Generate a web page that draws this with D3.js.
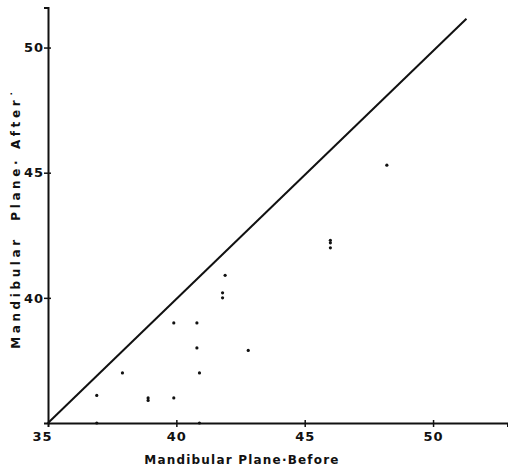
<!DOCTYPE html>
<html>
<head>
<meta charset="utf-8">
<script src="https://cdn.jsdelivr.net/npm/d3@7"></script>
<style>
  body { margin: 0; background: #fff; }
  svg { display: block; }
  .lbl { font-family: "DejaVu Sans", sans-serif; font-weight: bold; fill: #111; }
</style>
</head>
<body>
<div id="chart"></div>
<script>
// values
let beforeVals = [36.9, 36.9, 37.9, 38.9, 38.9, 39.9, 39.9, 40.8, 40.8, 40.9, 40.9, 41.8, 41.8, 41.9, 42.8, 46.0, 46.0, 46.0, 48.2];
let afterVals  = [35.0, 36.1, 37.0, 36.0, 35.9, 36.0, 39.0, 39.0, 38.0, 37.0, 35.0, 40.2, 40.0, 40.9, 37.9, 42.3, 42.2, 42.0, 45.3];
let xTicks = [35, 40, 45, 50];
let yTicks = [40, 45, 50];
// line of no change
let lineBefore = [35, 51.3];
let lineAfter = [35, 51.15];

let width = 508;
let height = 467;

let svg = d3.select("#chart").append("svg")
  .attr("width", width)
  .attr("height", height);

let xScale = d3.scaleLinear().domain([35, 52.9]).range([48, 507.5]);
let yScale = d3.scaleLinear().domain([35, 51.6]).range([423, 7.5]);

// x axis
let xAxis = svg.append("g")
  .attr("transform", "translate(0," + yScale(35) + ")")
  .call(d3.axisBottom(xScale).tickValues(xTicks).tickSize(4).tickPadding(5));
xAxis.select(".domain").attr("stroke", "#111").attr("stroke-width", 2);
xAxis.selectAll(".tick line").attr("y1", -3).attr("stroke", "#111").attr("stroke-width", 1.5);
xAxis.selectAll(".tick text")
  .attr("class", "lbl")
  .style("font-size", "13px")
  .style("letter-spacing", "1px")
  .attr("dx", function(d) { return d == 35 ? -6 : 0; });
xAxis.selectAll(".tick").filter(function(d) { return d == 35; }).select("line").remove();

// y axis
let yAxis = svg.append("g")
  .attr("transform", "translate(" + xScale(35) + ",0)")
  .call(d3.axisLeft(yScale).tickValues(yTicks).tickSize(4).tickPadding(0));
yAxis.select(".domain").attr("stroke", "#111").attr("stroke-width", 2);
yAxis.selectAll(".tick line").attr("x1", 3).attr("stroke", "#111").attr("stroke-width", 1.5);
yAxis.selectAll(".tick text")
  .attr("class", "lbl")
  .style("font-size", "13px")
  .style("letter-spacing", "1px");

// diagonal
let diag = d3.line()
  .x(function(d) { return xScale(d[0]); })
  .y(function(d) { return yScale(d[1]); });

svg.append("path")
  .datum(d3.zip(lineBefore, lineAfter))
  .attr("d", diag)
  .attr("fill", "none")
  .attr("stroke", "#111")
  .attr("stroke-width", 2);

// points
svg.selectAll(".pt")
  .data(d3.zip(beforeVals, afterVals))
  .enter().append("circle")
  .attr("class", "pt")
  .attr("cx", function(d) { return xScale(d[0]); })
  .attr("cy", function(d) { return yScale(d[1]); })
  .attr("r", 1.6)
  .attr("fill", "#111");

// axis titles
svg.append("text")
  .attr("class", "lbl")
  .attr("x", 242)
  .attr("y", 464)
  .attr("text-anchor", "middle")
  .style("font-size", "12px")
  .style("letter-spacing", "1.2px")
  .text("Mandibular Plane\u00b7Before");

svg.append("text")
  .attr("class", "lbl")
  .attr("transform", "translate(20,218) rotate(-90)")
  .attr("text-anchor", "middle")
  .style("font-size", "12px")
  .style("letter-spacing", "3.6px")
  .style("white-space", "pre")
  .text("Mandibular  Plane\u00b7 After\u02d9");
</script>
</body>
</html>
